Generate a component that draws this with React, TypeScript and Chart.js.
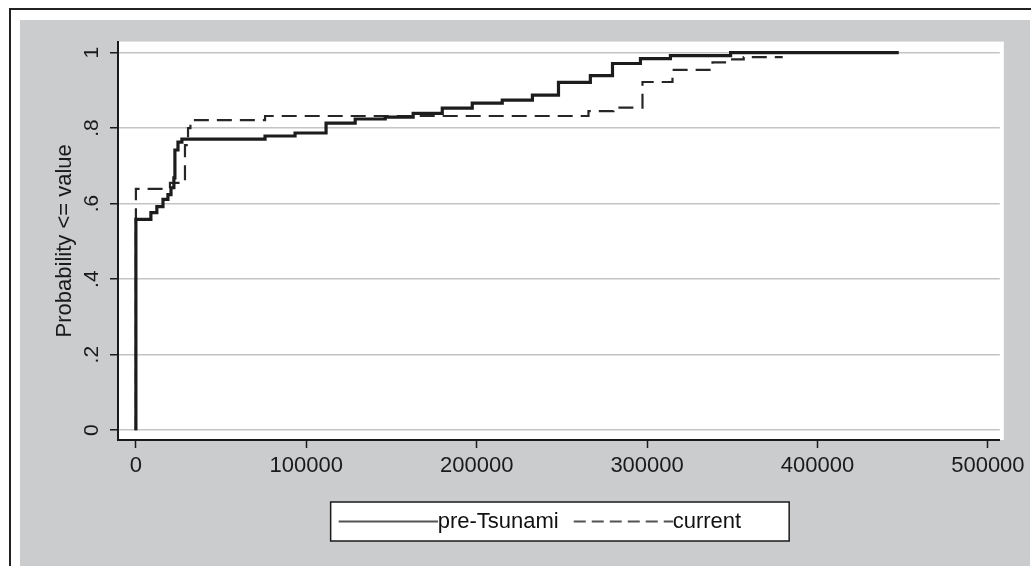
import React, { useEffect, useRef } from "react";
import { Chart, registerables } from "chart.js";

Chart.register(...registerables);

const FONT = "'Liberation Sans', Arial, Helvetica, sans-serif";

// Empirical CDF of pre-Tsunami values (step points)
const preTsunamiX = [0, 0, 8800, 12300, 15900, 18800, 20600, 22300, 22900, 24700, 27000, 75800, 93400, 111600, 128700, 146300, 162700, 179800, 197400, 215000, 232700, 248000, 266700, 279700, 296100, 313700, 349000, 447700];
const preTsunamiY = [0, 0.558, 0.576, 0.592, 0.611, 0.624, 0.642, 0.668, 0.742, 0.763, 0.771, 0.779, 0.787, 0.813, 0.824, 0.829, 0.839, 0.853, 0.866, 0.874, 0.887, 0.921, 0.939, 0.971, 0.984, 0.992, 1.0, 1.0];

// Empirical CDF of current values (step points)
const currentX = [0, 0, 20000, 28800, 30600, 32000, 75800, 265600, 280300, 297300, 314900, 338400, 349000, 356700, 379600];
const currentY = [0, 0.639, 0.655, 0.755, 0.8, 0.821, 0.832, 0.845, 0.854, 0.922, 0.954, 0.974, 0.982, 0.988, 0.988];

const seriesLabels = ["pre-Tsunami", "current"];
const xTickValues = [0, 100000, 200000, 300000, 400000, 500000];
const yTickValues = [0, 0.2, 0.4, 0.6, 0.8, 1];
const yTickLabels = ["0", ".2", ".4", ".6", ".8", "1"];
const yAxisTitle = "Probability <= value";

const LEGEND_FONT = 22;
const LEGEND_BOX = 88;
const LEGEND_SHIFT = 19;

const toPoints = (xs: number[], ys: number[]) => xs.map((x, i) => ({ x, y: ys[i] }));

// legend sample: line runs from the box's left edge up to where the text starts
const makeSample = (dash: number[]) => {
  const half = LEGEND_FONT / 2;
  const c = document.createElement("canvas");
  c.width = LEGEND_BOX + 2 * half;
  c.height = 6;
  const g = c.getContext("2d")!;
  g.strokeStyle = "#1a1a1a";
  g.lineWidth = 1.6;
  g.setLineDash(dash);
  g.beginPath();
  g.moveTo(half, 3);
  g.lineTo(c.width, 3);
  g.stroke();
  return c;
};

const backgroundPlugin = {
  id: "stataBackground",
  afterLayout(chart: any) {
    const lg = chart.legend;
    if (lg) {
      lg.left -= LEGEND_SHIFT;
      lg.right -= LEGEND_SHIFT;
    }
  },
  beforeDraw(chart: any) {
    const { ctx, chartArea: a } = chart;
    ctx.save();
    ctx.fillStyle = "#ffffff";
    ctx.fillRect(a.left, a.top, a.right - a.left + 4, a.bottom - a.top);
    const lg = chart.legend;
    if (lg && lg.legendHitBoxes && lg.legendHitBoxes.length) {
      const hb = lg.legendHitBoxes;
      const first = hb[0];
      const last = hb[hb.length - 1];
      const cy = first.top + first.height / 2;
      const left = first.left - 8;
      const right = last.left + last.width + 48;
      ctx.fillStyle = "#ffffff";
      ctx.fillRect(left, cy - 19.5, right - left, 39);
      ctx.strokeStyle = "#1a1a1a";
      ctx.lineWidth = 1.5;
      ctx.strokeRect(left, cy - 19.5, right - left, 39);
    }
    ctx.restore();
  },
};

export default function App() {
  const canvasRef = useRef<HTMLCanvasElement | null>(null);

  useEffect(() => {
    if (!canvasRef.current) return;
    Chart.defaults.font.family = FONT;
    const samples = [makeSample([]), makeSample([12, 6])];
    const chart = new Chart(canvasRef.current, {
      type: "line",
      data: {
        datasets: [
          {
            label: seriesLabels[0],
            data: toPoints(preTsunamiX, preTsunamiY),
            borderColor: "#1c1c1c",
            backgroundColor: "#1c1c1c",
            borderWidth: 3.2,
            stepped: true,
            pointRadius: 0,
            fill: false,
          },
          {
            label: seriesLabels[1],
            data: toPoints(currentX, currentY),
            borderColor: "#262626",
            backgroundColor: "#262626",
            borderWidth: 2.2,
            borderDash: [15, 8],
            stepped: true,
            pointRadius: 0,
            fill: false,
          },
        ],
      },
      plugins: [backgroundPlugin],
      options: {
        animation: false,
        responsive: true,
        maintainAspectRatio: false,
        layout: { padding: { left: 0, top: 21, right: 30, bottom: 23.5 } },
        plugins: {
          tooltip: { enabled: false },
          legend: {
            position: "bottom",
            fullSize: false,
            labels: {
              usePointStyle: true,
              pointStyleWidth: LEGEND_BOX,
              boxHeight: 20,
              padding: 15,
              color: "#111",
              font: { family: FONT, size: LEGEND_FONT },
              generateLabels: (c: any) =>
                (Chart.defaults.plugins.legend.labels as any)
                  .generateLabels(c)
                  .map((l: any, i: number) => ({ ...l, pointStyle: samples[i] })),
            },
          },
        },
        scales: {
          x: {
            type: "linear",
            min: -10500,
            max: 507000,
            afterBuildTicks: (s: any) => {
              s.ticks = xTickValues.map((v) => ({ value: v }));
            },
            afterFit: (s: any) => {
              s.height = 55.5;
            },
            grid: {
              display: true,
              drawOnChartArea: false,
              drawTicks: true,
              tickLength: 8,
              tickColor: "#1a1a1a",
              tickWidth: 1.5,
            },
            border: { display: true, color: "#1a1a1a", width: 2 },
            ticks: {
              color: "#1a1a1a",
              font: { family: FONT, size: 22 },
              padding: 5,
              maxRotation: 0,
              minRotation: 0,
              autoSkip: false,
              callback: (v: any) => String(v),
            },
          },
          y: {
            type: "linear",
            min: -0.026,
            max: 1.029,
            afterBuildTicks: (s: any) => {
              s.ticks = yTickValues.map((v) => ({ value: v }));
            },
            afterFit: (s: any) => {
              s.width = 98;
            },
            grid: {
              color: "#c4c4c4",
              lineWidth: 1.5,
              tickLength: 8,
              tickColor: "#1a1a1a",
              tickWidth: 1.5,
            },
            border: { display: true, color: "#1a1a1a", width: 2 },
            ticks: {
              color: "#1a1a1a",
              font: { family: FONT, size: 21 },
              minRotation: 90,
              maxRotation: 90,
              crossAlign: "center",
              padding: 9,
              autoSkip: false,
              callback: (_v: any, i: number) => yTickLabels[i],
            },
            title: {
              display: true,
              text: yAxisTitle,
              color: "#1a1a1a",
              font: { family: FONT, size: 22 },
              padding: { top: 32, bottom: 0 },
            },
          },
        },
      } as any,
    });
    return () => chart.destroy();
  }, []);

  return (
    <div
      style={{
        position: "fixed",
        left: 0,
        top: 0,
        width: 1031,
        height: 566,
        background: "#ffffff",
        overflow: "hidden",
      }}
    >
      <div
        style={{
          position: "absolute",
          left: 9,
          top: 8,
          width: 1100,
          height: 700,
          borderLeft: "2px solid #222",
          borderTop: "2px solid #222",
        }}
      />
      <div
        style={{
          position: "absolute",
          left: 20,
          top: 20,
          width: 1010,
          height: 546,
          background: "#cbccce",
        }}
      >
        <canvas ref={canvasRef} />
      </div>
    </div>
  );
}
